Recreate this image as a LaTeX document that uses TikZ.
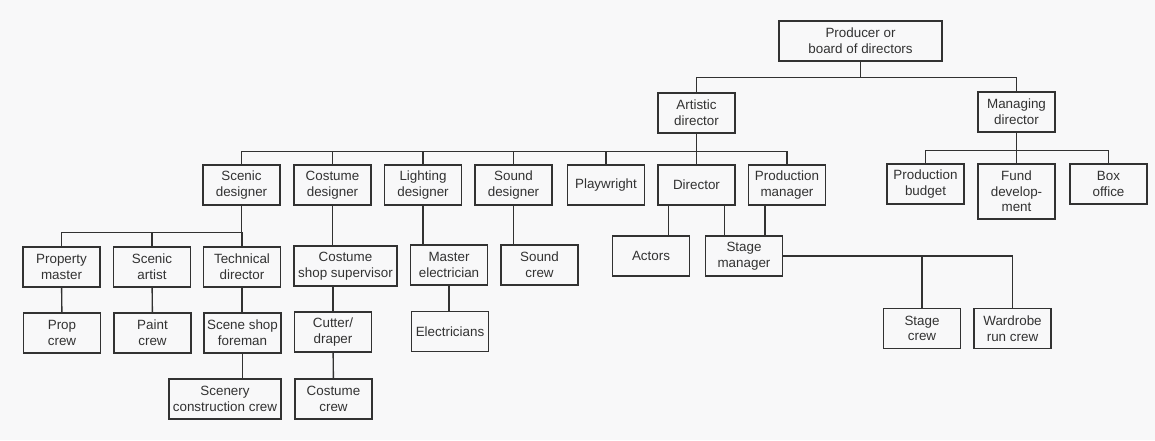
\documentclass[tikz,border=0pt]{standalone}
\usepackage{fontspec}
\setmainfont{Liberation Sans}
\definecolor{papier}{RGB}{248,248,249}
\definecolor{encre}{RGB}{50,50,50}
\begin{document}
\begin{tikzpicture}[x=1pt, y=-1pt,
    poste/.style={draw=encre, line width=1.4pt, text=encre, align=center,
      minimum width=77pt, minimum height=40pt, inner sep=0pt,
      font=\fontsize{13.4}{15.7}\selectfont},
    lien/.style={draw=encre, line width=1.4pt}]
    \fill[papier] (0,0) rectangle (1155,440);
    \useasboundingbox (0,0) rectangle (1155,440);

    % Direction
    \node[poste, minimum width=163pt] (prod) at (860.5,41) {Producer or\\board of directors};
    \node[poste] (art) at (696.5,113) {Artistic\\director};
    \node[poste] (mgr) at (1016.5,112) {Managing\\director};

    % Administration
    \node[poste] (bud) at (925.5,184) {Production\\budget};
    \node[poste, minimum height=55pt] (fund) at (1016.5,191.5) {Fund\\develop-\\ment};
    \node[poste] (box) at (1108.5,184) {Box\\office};

    % Concepteurs
    \node[poste] (scen) at (241.5,185) {Scenic\\designer};
    \node[poste] (cost) at (332.5,185) {Costume\\designer};
    \node[poste] (light) at (423,185) {Lighting\\designer};
    \node[poste] (sound) at (513.5,185) {Sound\\designer};
    \node[poste] (play) at (606,185) {Playwright};
    \node[poste] (dir) at (696.5,185) {Director};
    \node[poste] (pm) at (787,185) {Production\\manager};

    % Chefs d'atelier
    \node[poste] (pmast) at (61.5,267) {Property\\master};
    \node[poste] (sart) at (152,267) {Scenic\\artist};
    \node[poste] (tdir) at (242,267) {Technical\\director};
    \node[poste, minimum width=103pt] (css) at (345.5,266) {Costume\\shop supervisor};
    \node[poste] (mel) at (449,265) {Master\\electrician};
    \node[poste] (screw) at (539.5,265) {Sound\\crew};
    \node[poste] (actors) at (651,256) {Actors};
    \node[poste] (smgr) at (744,256) {Stage\\manager};

    % Equipes
    \node[poste] (pcrew) at (62,333) {Prop\\crew};
    \node[poste] (paint) at (152.5,333) {Paint\\crew};
    \node[poste] (ssf) at (242.5,333) {Scene shop\\foreman};
    \node[poste] (cut) at (333,332) {Cutter/\\draper};
    \node[poste] (elec) at (450,331.5) {Electricians};
    \node[poste] (stcrew) at (922,328.5) {Stage\\crew};
    \node[poste] (wrc) at (1012.5,328.5) {Wardrobe\\run crew};
    \node[poste, minimum width=112pt] (scc) at (225,399) {Scenery\\construction crew};
    \node[poste] (ccrew) at (333.5,399) {Costume\\crew};

    % Liens
    \draw[lien] (prod.south) -- ++(0,16) -| (art.north);
    \draw[lien] (prod.south) -- ++(0,16) -| (mgr.north);
    \foreach \n in {bud,fund,box}
        \draw[lien] (mgr.south) -- ++(0,18) -| (\n.north);
    \foreach \n in {scen,cost,light,sound,play,dir,pm}
        \draw[lien] (art.south) -- ++(0,18) -| (\n.north);
    \foreach \n in {pmast,sart,tdir}
        \draw[lien] (scen.south) -- ++(0,27) -| (\n.north);
    \draw[lien] (cost.south) -- (cost.south |- css.north);
    \draw[lien] (light.south) -- (light.south |- mel.north);
    \draw[lien] (sound.south) -- (sound.south |- screw.north);
    \draw[lien] ([xshift=11pt]dir.south west) -- ([xshift=11pt]dir.south west |- actors.north);
    \draw[lien] ([xshift=-11pt]dir.south east) -- ([xshift=-11pt]dir.south east |- smgr.north);
    \draw[lien] ([xshift=17pt]pm.south west) -- ([xshift=17pt]pm.south west |- smgr.north);
    \draw[lien] (smgr.east) -| (stcrew.north);
    \draw[lien] (smgr.east) -| (wrc.north);
    \draw[lien] (pmast) -- (pcrew);
    \draw[lien] (sart) -- (paint);
    \draw[lien] (tdir.south) -- (tdir.south |- ssf.north);
    \draw[lien] (cut.north |- css.south) -- (cut.north);
    \draw[lien] (mel.south) -- (mel.south |- elec.north);
    \draw[lien] (ssf.south) -- (ssf.south |- scc.north);
    \draw[lien] (cut) -- (ccrew);
\end{tikzpicture}
\end{document}
